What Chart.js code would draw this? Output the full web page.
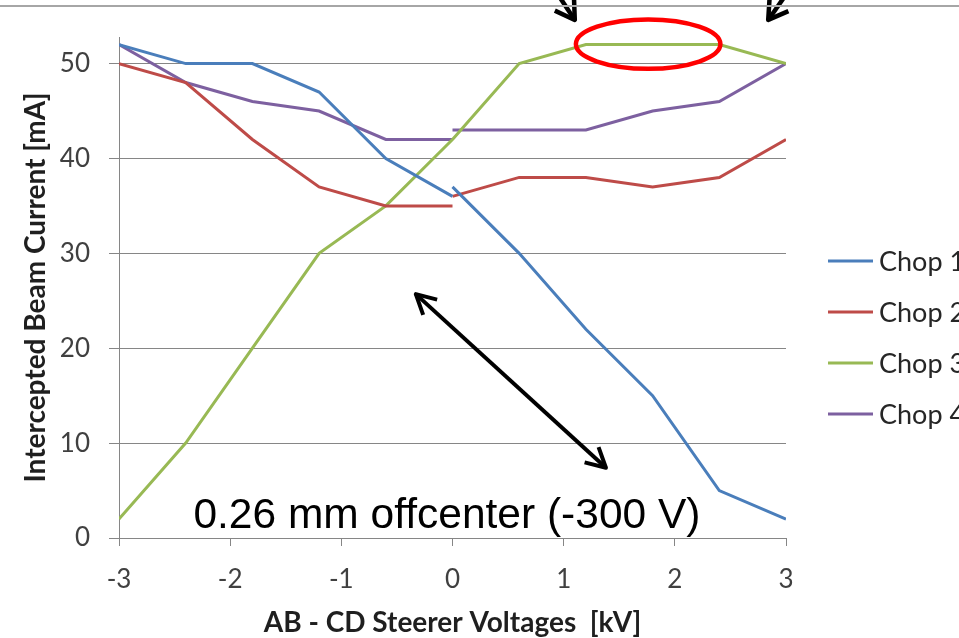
<!DOCTYPE html>
<html>
<head>
<meta charset="utf-8">
<script src="https://cdn.jsdelivr.net/npm/chart.js@4.4.0/dist/chart.umd.min.js"></script>
<style>
  html, body { margin: 0; padding: 0; background: #fff; }
  #wrap { position: relative; width: 959px; height: 638px; overflow: hidden; }
  #topline { position: absolute; left: 0; top: 5px; width: 959px; height: 2px; background: #a6a6a6; }
</style>
</head>
<body>
<div id="wrap">
  <canvas id="chart" width="959" height="638"></canvas>
  <div id="topline"></div>
</div>
<script>
// steerer voltage (kV): two sweeps that meet at 0
const voltsLeft = [-3, -2.4, -1.8, -1.2, -0.6, 0];
const voltsRight = [0, 0.6, 1.2, 1.8, 2.4, 3];

// intercepted beam current (mA)
const chop1Left = [52, 50, 50, 47, 40, 36];
const chop1Right = [37, 30, 22, 15, 5, 2];
const chop2Left = [50, 48, 42, 37, 35, 35];
const chop2Right = [36, 38, 38, 37, 38, 42];
const chop3Left = [2, 10, 20, 30, 35, 42];
const chop3Right = [42, 50, 52, 52, 52, 50];
const chop4Left = [52, 48, 46, 45, 42, 42];
const chop4Right = [43, 43, 43, 45, 46, 50];

const seriesNames = ['Chop 1', 'Chop 2', 'Chop 3', 'Chop 4'];
const seriesColors = ['#4a7ebb', '#be4b48', '#98b954', '#7d60a0'];

const xTicks = [-3, -2, -1, 0, 1, 2, 3];
const yTicks = [0, 10, 20, 30, 40, 50];

const noteText = '0.26 mm offcenter (-300 V)';

// join both sweeps into one line, with a break at 0
function joinSweeps(left, right) {
  const pts = voltsLeft.map((x, i) => ({ x: x, y: left[i] }));
  pts.push({ x: 0, y: null });
  voltsRight.forEach((x, i) => pts.push({ x: x, y: right[i] }));
  return pts;
}

const seriesData = [
  joinSweeps(chop1Left, chop1Right),
  joinSweeps(chop2Left, chop2Right),
  joinSweeps(chop3Left, chop3Right),
  joinSweeps(chop4Left, chop4Right)
];

function arrowHead(ctx, tipX, tipY, fromX, fromY, len, spread) {
  const ang = Math.atan2(fromY - tipY, fromX - tipX);
  ctx.beginPath();
  ctx.moveTo(tipX + len * Math.cos(ang - spread), tipY + len * Math.sin(ang - spread));
  ctx.lineTo(tipX, tipY);
  ctx.lineTo(tipX + len * Math.cos(ang + spread), tipY + len * Math.sin(ang + spread));
  ctx.stroke();
}

// arrows, ellipse, note text and the legend
const overlay = {
  id: 'overlay',
  afterDraw(chart) {
    const ctx = chart.ctx;
    const xs = chart.scales.x;
    const ys = chart.scales.y;
    const px = v => xs.getPixelForValue(v);
    const py = v => ys.getPixelForValue(v);

    ctx.save();
    ctx.strokeStyle = '#000';
    ctx.lineWidth = 4;
    ctx.lineJoin = 'round';

    // double arrow
    const ax1 = px(-0.33), ay1 = py(25.7);
    const ax2 = px(1.38), ay2 = py(7.4);
    ctx.beginPath();
    ctx.moveTo(ax1, ay1);
    ctx.lineTo(ax2, ay2);
    ctx.stroke();
    arrowHead(ctx, ax1, ay1, ax2, ay2, 22, 0.49);
    arrowHead(ctx, ax2, ay2, ax1, ay1, 22, 0.49);

    // arrows pointing at the flat top
    ctx.lineWidth = 4.5;
    [[1.1, 54.6, 0.93, 57.6], [2.84, 54.6, 3.02, 57.6]].forEach(a => {
      const tx = px(a[0]), ty = py(a[1]), fx = px(a[2]), fy = py(a[3]);
      ctx.beginPath();
      ctx.moveTo(fx, fy);
      ctx.lineTo(tx, ty);
      ctx.stroke();
      arrowHead(ctx, tx, ty, fx, fy, 22, 0.55);
    });

    // red ellipse round the plateau
    ctx.strokeStyle = '#ff0000';
    ctx.lineWidth = 4.5;
    ctx.beginPath();
    ctx.ellipse(px(1.76), py(52.05), px(1.76) - px(1.11), py(52.05) - py(54.65), 0, 0, Math.PI * 2);
    ctx.stroke();

    // note
    ctx.fillStyle = '#000';
    ctx.font = '42.5px "Liberation Sans", Arial, sans-serif';
    ctx.textAlign = 'center';
    ctx.textBaseline = 'alphabetic';
    ctx.fillText(noteText, px(-0.05), py(1.05));

    // legend
    const lx = chart.chartArea.right + 42;
    ctx.font = '27px Lato, sans-serif';
    ctx.textAlign = 'left';
    ctx.textBaseline = 'middle';
    chart.data.datasets.forEach((ds, i) => {
      const ly = 261 + i * 51;
      ctx.strokeStyle = ds.borderColor;
      ctx.lineWidth = 3;
      ctx.beginPath();
      ctx.moveTo(lx, ly);
      ctx.lineTo(lx + 45, ly);
      ctx.stroke();
      ctx.fillStyle = '#262626';
      ctx.fillText(ds.label, lx + 51, ly + 1);
    });
    ctx.restore();
  }
};

new Chart(document.getElementById('chart'), {
  type: 'line',
  data: {
    datasets: seriesNames.map((name, i) => ({
      label: name,
      data: seriesData[i],
      borderColor: seriesColors[i],
      backgroundColor: seriesColors[i],
      borderWidth: 3,
      pointRadius: 0,
      tension: 0,
      fill: false,
      spanGaps: false
    }))
  },
  options: {
    responsive: false,
    animation: false,
    layout: { padding: { top: 37, right: 173, left: 0, bottom: 0 } },
    plugins: {
      legend: { display: false },
      tooltip: { enabled: false }
    },
    scales: {
      x: {
        type: 'linear',
        min: -3,
        max: 3,
        afterBuildTicks: s => { s.ticks = xTicks.map(v => ({ value: v })); },
        afterFit: s => { s.height = 100; },
        grid: { drawOnChartArea: false, drawTicks: true, tickLength: 8, color: '#868686' },
        border: { color: '#868686', width: 1 },
        ticks: { color: '#404040', padding: 18, font: { family: 'Lato', size: 26 } },
        title: {
          display: true,
          text: 'AB - CD Steerer Voltages  [kV]',
          color: '#1f1f1f',
          font: { family: 'Lato', size: 28, weight: 'bold', lineHeight: 1.1 },
          padding: { top: 0, bottom: 0 }
        }
      },
      y: {
        min: 0,
        max: 52.8,
        afterBuildTicks: s => { s.ticks = yTicks.map(v => ({ value: v })); },
        afterFit: s => { s.width = 119; },
        grid: { color: '#868686', tickLength: 10 },
        border: { color: '#868686', width: 1 },
        ticks: { color: '#404040', padding: 19, font: { family: 'Lato', size: 26 } },
        title: {
          display: true,
          text: 'Intercepted Beam Current [mA]',
          color: '#1f1f1f',
          font: { family: 'Lato', size: 28, weight: 'bold', lineHeight: 1.1 },
          padding: { top: 21, bottom: 0 }
        }
      }
    }
  },
  plugins: [overlay]
});
</script>
</body>
</html>
